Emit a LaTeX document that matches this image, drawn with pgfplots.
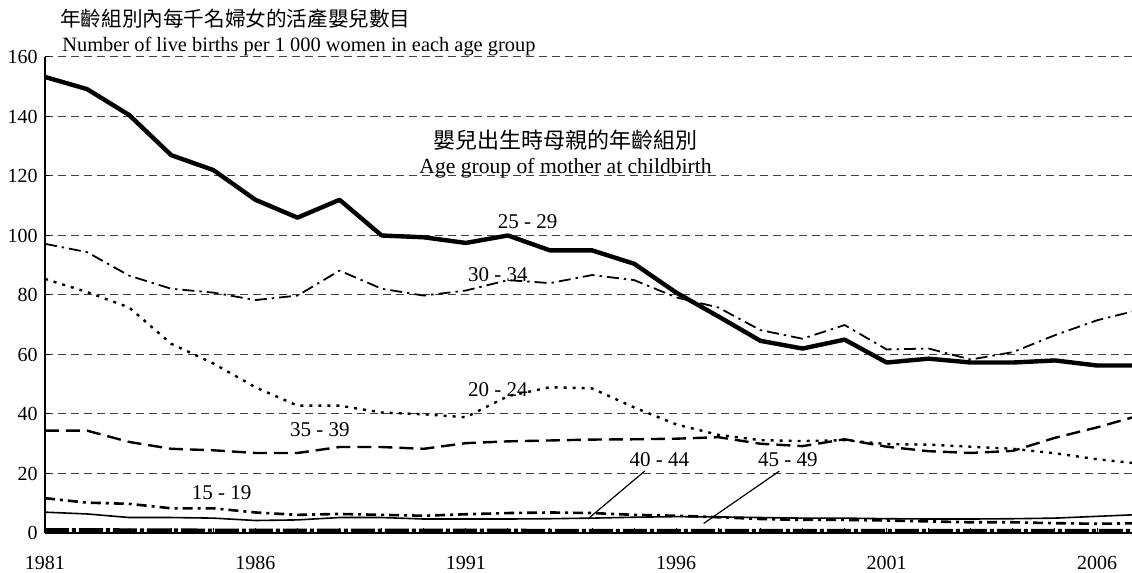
\documentclass[border=0pt]{standalone}
\usepackage{fontspec}
\setmainfont{Liberation Serif}
\newfontfamily\cjk{Noto Sans CJK TC}
\usepackage{pgfplots}
\usepackage{pgfplotstable}
\pgfplotsset{compat=1.18}

\pgfplotstableread{
year s15 s20 s25 s30 s35 s40 s45
1981 11.7 85.4 153.3 97.2 34.4 7.0 1.0
1982 10.2 81.0 149.2 94.4 34.4 6.4 1.0
1983 9.8 75.8 140.5 86.5 30.6 5.2 0.9
1984 8.3 63.6 127.0 82.1 28.3 5.2 0.9
1985 8.3 57.0 122.0 80.8 27.8 5.0 0.8
1986 6.9 49.0 112.0 78.3 26.9 4.2 0.8
1987 6.1 42.8 106.0 79.8 26.9 4.4 0.8
1988 6.4 42.8 112.0 88.2 28.9 5.2 0.8
1989 6.1 40.5 100.0 82.1 28.9 5.2 0.8
1990 5.8 39.9 99.4 79.8 28.3 4.7 0.8
1991 6.3 38.9 97.5 81.5 30.2 4.7 0.8
1992 6.7 46.0 100.0 85.0 30.8 4.7 0.8
1993 6.9 49.0 95.0 84.0 31.1 4.8 0.7
1994 6.7 48.6 95.0 86.7 31.4 5.0 0.7
1995 6.1 42.2 90.5 85.0 31.5 5.3 0.7
1996 5.8 36.5 80.8 79.2 31.7 5.5 0.7
1997 5.3 33.0 72.8 75.8 32.2 5.4 0.7
1998 4.7 31.2 64.6 68.2 30.0 5.2 0.7
1999 4.4 30.9 62.0 65.3 29.2 5.0 0.7
2000 4.4 31.2 65.0 69.9 31.5 5.0 0.7
2001 4.2 29.9 57.3 61.7 29.0 4.8 0.7
2002 3.9 29.7 58.6 62.0 27.5 4.7 0.7
2003 3.6 29.0 57.3 58.3 26.9 4.7 0.7
2004 3.6 28.3 57.3 60.8 27.6 4.8 0.7
2005 3.3 26.8 58.0 66.5 32.0 5.0 0.7
2006 3.1 24.8 56.3 71.5 35.5 5.6 0.7
2007 3.3 23.3 56.3 75.0 39.5 6.2 0.7
}\data

\begin{document}
\fontsize{10.5}{12}\selectfont
\begin{tikzpicture}
\useasboundingbox (-22.5pt,-20pt) rectangle (543.5pt,266.5pt);
\begin{axis}[
  at={(0,0)}, anchor=south west,
  scale only axis, width=543.5pt, height=238pt,
  xmin=1981, xmax=2006.83, ymin=0, ymax=160,
  axis lines*=left,
  axis line style={line width=0.8pt, black},
  tick align=inside,
  major tick length=2.5pt, minor tick length=2.5pt,
  tick style={black, line width=0.5pt},
  xtick={1981,1986,1991,1996,2001,2006},
  xticklabels={1981,1986,1991,1996,2001,2006},
  minor xtick={1982,1983,1984,1985,1987,1988,1989,1990,1992,1993,1994,1995,1997,1998,1999,2000,2002,2003,2004,2005},
  ytick={0,20,...,160},
  ymajorgrids,
  major grid style={black!75, line width=0.5pt, dash pattern=on 4pt off 2.5pt},
  /pgf/number format/assume math mode=true,
  ticklabel style={font=\fontsize{10}{12}\selectfont},
  xticklabel style={yshift=-8pt},
  line join=round,
]
\addplot[black, line width=2pt, dash pattern=on 12pt off 1.5pt on 2pt off 1.5pt] table[x=year,y=s45]{\data};
\addplot[black, line width=0.8pt] table[x=year,y=s40]{\data};
\addplot[black, line width=1.3pt, dash pattern=on 5pt off 2.5pt on 1.5pt off 2.5pt] table[x=year,y=s15]{\data};
\addplot[black, line width=1.2pt, dash pattern=on 7pt off 3.5pt] table[x=year,y=s35]{\data};
\addplot[black, line width=1.2pt, dash pattern=on 1.5pt off 3pt] table[x=year,y=s20]{\data};
\addplot[black, line width=0.9pt, dash pattern=on 6pt off 2.5pt on 1.2pt off 2.5pt] table[x=year,y=s30]{\data};
\addplot[black, line width=2.2pt] table[x=year,y=s25]{\data};

\node at (axis cs:1992.47,104.5) {25 - 29};
\node at (axis cs:1991.76,86.7) {30 - 34};
\node at (axis cs:1991.76,48.1) {20 - 24};
\node at (axis cs:1987.53,34.6) {35 - 39};
\node at (axis cs:1985.2,13.4) {15 - 19};
\node at (axis cs:1995.6,24.5) {40 - 44};
\node at (axis cs:1998.65,24.5) {45 - 49};
\draw[black, line width=0.6pt] (axis cs:1995.25,20.8) -- (axis cs:1993.9,4.7);
\draw[black, line width=0.6pt] (axis cs:1998.45,20.8) -- (axis cs:1996.65,3.2);
\node[font=\cjk\fontsize{11}{13}\selectfont] at (axis cs:1993.37,132.1) {嬰兒出生時母親的年齡組別};
\node[font=\fontsize{10.8}{13}\selectfont] at (axis cs:1993.37,122.6) {Age group of mother at childbirth};
\end{axis}
\node[anchor=base west, font=\cjk\fontsize{10.3}{12}\selectfont, inner sep=0pt] at (7.5pt,253pt) {年齡組別內每千名婦女的活產嬰兒數目};
\node[anchor=base west, font=\fontsize{10.2}{12}\selectfont, inner sep=0pt] at (8.5pt,240.5pt) {Number of live births per 1 000 women in each age group};
\end{tikzpicture}
\end{document}
